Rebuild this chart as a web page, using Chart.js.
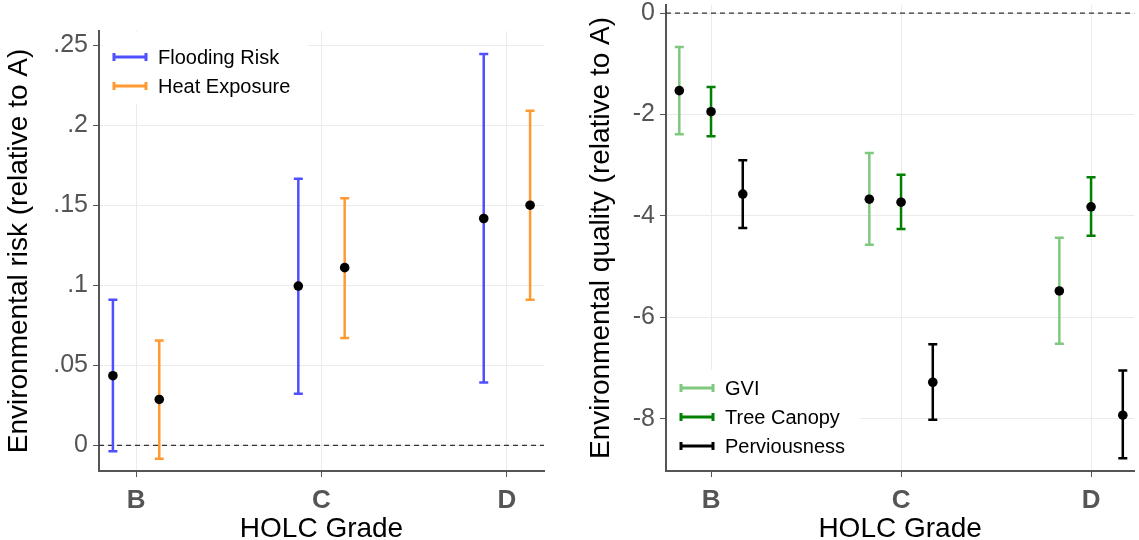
<!DOCTYPE html>
<html>
<head>
<meta charset="utf-8">
<script src="https://cdn.jsdelivr.net/npm/chart.js@4.4.1/dist/chart.umd.min.js"></script>
<style>
  html, body { margin: 0; padding: 0; background: #fff; }
  #wrap { position: relative; width: 1139px; height: 540px; overflow: hidden; }
  .panel { position: absolute; top: 0; height: 540px; }
  #p1 { left: 0; width: 555px; }
  #p2 { left: 570px; width: 569px; }
</style>
</head>
<body>
<div id="wrap">
  <div class="panel" id="p1"><canvas id="graph1"></canvas></div>
  <div class="panel" id="p2"><canvas id="graph2"></canvas></div>
</div>
<script>
const grades = ['B', 'C', 'D'];

// left panel: environmental risk
const floodEst = [0.0435, 0.0995, 0.1417];
const floodLo  = [-0.0037, 0.0323, 0.0393];
const floodHi  = [0.091, 0.1665, 0.2445];
const heatEst  = [0.0287, 0.111, 0.150];
const heatLo   = [-0.0083, 0.067, 0.091];
const heatHi   = [0.0655, 0.1544, 0.209];
const riskTicks = [0, 0.05, 0.1, 0.15, 0.2, 0.25];

// right panel: environmental quality
const gviEst  = [-1.53, -3.67, -5.48];
const gviLo   = [-2.39, -4.57, -6.52];
const gviHi   = [-0.67, -2.76, -4.43];
const treeEst = [-1.945, -3.73, -3.82];
const treeLo  = [-2.43, -4.26, -4.39];
const treeHi  = [-1.46, -3.19, -3.24];
const pervEst = [-3.57, -7.28, -7.93];
const pervLo  = [-4.24, -8.02, -8.78];
const pervHi  = [-2.90, -6.53, -7.05];
const qualTicks = [0, -2, -4, -6, -8];

const FONT = "'Liberation Sans', Arial, sans-serif";

// builds one dodged series: black points, the bars are drawn by the plugin
function series(label, color, offset, est, lo, hi) {
    return {
        label: label,
        data: est.map((v, i) => ({ x: i + 1 + offset, y: v })),
        lo: lo,
        hi: hi,
        barColor: color,
        pointRadius: 4.8,
        pointBackgroundColor: '#000000',
        pointBorderWidth: 0,
        showLine: false
    };
}

const errorBars = {
    id: 'errorBars',
    beforeDatasetsDraw(chart) {
        const ctx = chart.ctx;
        const x = chart.scales.x, y = chart.scales.y;
        const area = chart.chartArea;
        ctx.save();
        // dashed zero line
        const y0 = y.getPixelForValue(0);
        ctx.setLineDash([5, 4]);
        ctx.strokeStyle = '#333333';
        ctx.lineWidth = 1.2;
        ctx.beginPath();
        ctx.moveTo(area.left, y0);
        ctx.lineTo(area.right, y0);
        ctx.stroke();
        ctx.setLineDash([]);
        chart.data.datasets.forEach(ds => {
            ctx.strokeStyle = ds.barColor;
            ctx.lineWidth = 2.5;
            ds.data.forEach((p, i) => {
                const px = x.getPixelForValue(p.x);
                const pLo = y.getPixelForValue(ds.lo[i]);
                const pHi = y.getPixelForValue(ds.hi[i]);
                ctx.beginPath();
                ctx.moveTo(px, pLo); ctx.lineTo(px, pHi);
                ctx.moveTo(px - 4.5, pLo); ctx.lineTo(px + 4.5, pLo);
                ctx.moveTo(px - 4.5, pHi); ctx.lineTo(px + 4.5, pHi);
                ctx.stroke();
            });
        });
        ctx.restore();
    },
    afterDraw(chart, args, opts) {
        const ctx = chart.ctx;
        const lg = opts.legend;
        ctx.save();
        ctx.fillStyle = '#ffffff';
        ctx.fillRect(lg.box[0], lg.box[1], lg.box[2] - lg.box[0], lg.box[3] - lg.box[1]);
        ctx.font = '20px ' + FONT;
        ctx.textBaseline = 'middle';
        chart.data.datasets.forEach((ds, i) => {
            const ly = lg.y + i * lg.step;
            ctx.strokeStyle = ds.barColor;
            ctx.lineWidth = 3;
            ctx.beginPath();
            ctx.moveTo(lg.x, ly); ctx.lineTo(lg.x + 32, ly);
            ctx.moveTo(lg.x, ly - 4); ctx.lineTo(lg.x, ly + 4);
            ctx.moveTo(lg.x + 32, ly - 4); ctx.lineTo(lg.x + 32, ly + 4);
            ctx.stroke();
            ctx.fillStyle = '#000000';
            ctx.fillText(ds.label, lg.x + 44, ly + 1);
        });
        ctx.restore();
    }
};

function makeChart(id, datasets, o) {
    return new Chart(document.getElementById(id).getContext('2d'), {
        type: 'scatter',
        data: { datasets: datasets },
        plugins: [errorBars],
        options: {
            responsive: true,
            maintainAspectRatio: false,
            animation: false,
            events: [],
            layout: { padding: o.padding },
            scales: {
                x: {
                    type: 'linear',
                    min: o.xMin,
                    max: o.xMax,
                    afterBuildTicks: s => { s.ticks = grades.map((g, i) => ({ value: i + 1 })); },
                    afterFit: s => { s.height = 69; s.paddingLeft = 0; s.paddingRight = 0; },
                    ticks: {
                        callback: (v, i) => grades[i],
                        color: '#555555',
                        padding: 8,
                        font: { family: FONT, size: 26, weight: 'bold' }
                    },
                    grid: { color: '#ebebeb', tickColor: '#555555', tickLength: 6 },
                    border: { color: '#555555', width: 2 },
                    title: {
                        display: true,
                        text: 'HOLC Grade',
                        color: '#000000',
                        padding: { top: 0, bottom: 0 },
                        font: { family: FONT, size: 28, lineHeight: 0.8 }
                    }
                },
                y: {
                    min: o.yMin,
                    max: o.yMax,
                    afterBuildTicks: s => { s.ticks = o.yTicks.map(v => ({ value: v })); },
                    afterFit: s => { s.width = o.yWidth; s.paddingTop = 0; s.paddingBottom = 0; },
                    ticks: {
                        callback: o.fmt,
                        color: '#555555',
                        padding: 5,
                        font: { family: FONT, size: 25 }
                    },
                    grid: { color: '#ebebeb', tickColor: '#555555', tickLength: 6 },
                    border: { color: '#555555', width: 2 },
                    title: {
                        display: true,
                        text: o.yTitle,
                        color: '#000000',
                        padding: { top: o.titlePad, bottom: 0 },
                        font: { family: FONT, size: 28 }
                    }
                }
            },
            plugins: {
                legend: { display: false },
                tooltip: { enabled: false },
                errorBars: { legend: o.legend }
            }
        }
    });
}

const myChart1 = makeChart('graph1', [
    series('Flooding Risk', '#4f4fff', -0.125, floodEst, floodLo, floodHi),
    series('Heat Exposure', '#ff9a33', 0.125, heatEst, heatLo, heatHi)
], {
    padding: { top: 31, right: 11, left: 0, bottom: 0 },
    xMin: 0.8, xMax: 3.2,
    yMin: -0.016, yMax: 0.2588,
    yTicks: riskTicks,
    yWidth: 99,
    titlePad: 2,
    yTitle: 'Environmental risk (relative to A)',
    fmt: v => v === 0 ? '0' : String(+v.toFixed(2)).replace(/^0/, ''),
    legend: { box: [101, 32, 308, 104], x: 114, y: 57, step: 29 }
});

const myChart2 = makeChart('graph2', [
    series('GVI', '#7fc97f', -0.167, gviEst, gviLo, gviHi),
    series('Tree Canopy', '#008000', 0, treeEst, treeLo, treeHi),
    series('Perviousness', '#000000', 0.167, pervEst, pervLo, pervHi)
], {
    padding: { top: 0, right: 0, left: 0, bottom: 0 },
    xMin: 0.763, xMax: 3.227,
    yMin: -9.03, yMax: 0.163,
    yTicks: qualTicks,
    yWidth: 96,
    titlePad: 14,
    yTitle: 'Environmental quality (relative to A)',
    fmt: v => String(v),
    legend: { box: [97, 370, 290, 470], x: 111, y: 388, step: 29 }
});
</script>
</body>
</html>
